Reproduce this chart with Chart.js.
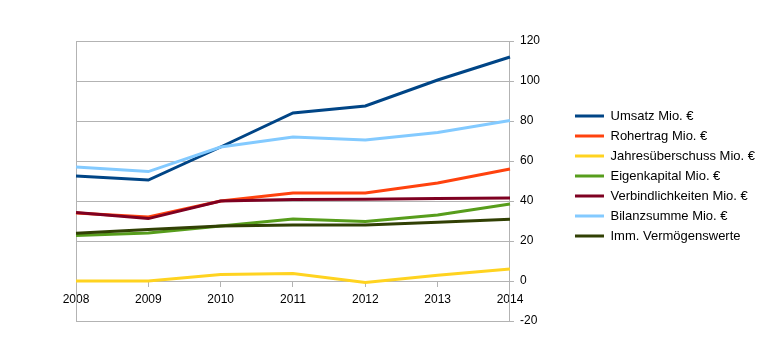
<!DOCTYPE html>
<html>
<head>
<meta charset="utf-8">
<script src="https://cdn.jsdelivr.net/npm/chart.js@4"></script>
<style>
  html, body { margin: 0; padding: 0; background: #fff; }
  #wrap { width: 765px; height: 352px; }
</style>
</head>
<body>
<div id="wrap"><canvas id="chart"></canvas></div>
<script>
const years = ["2008", "2009", "2010", "2011", "2012", "2013", "2014"];
const yTicks = [-20, 0, 20, 40, 60, 80, 100, 120];

const umsatz = [52.5, 50.5, 67, 84, 87.5, 100.5, 112];
const rohertrag = [34, 32, 40, 44, 44, 49, 56];
const jahresueberschuss = [0, 0, 3.3, 3.8, -0.7, 2.9, 6];
const eigenkapital = [22.7, 24, 27.5, 31, 29.7, 33, 38.5];
const verbindlichkeiten = [34.2, 31.2, 40, 40.8, 40.9, 41.3, 41.5];
const bilanzsumme = [57, 54.7, 67, 72, 70.5, 74.2, 80.2];
const immVermoegen = [23.9, 25.8, 27.5, 28, 28, 29.4, 30.9];

const seriesNames = ["Umsatz Mio. €", "Rohertrag Mio. €", "Jahresüberschuss Mio. €", "Eigenkapital Mio. €",
  "Verbindlichkeiten Mio. €", "Bilanzsumme Mio. €", "Imm. Vermögenswerte"];
const seriesColors = ["#004586", "#ff420e", "#ffd320", "#579d1c", "#7e0021", "#83caff", "#314004"];
const seriesData = [umsatz, rohertrag, jahresueberschuss, eigenkapital, verbindlichkeiten, bilanzsumme, immVermoegen];

const gridColor = "#b3b3b3";
const font = { family: "'Liberation Sans', Arial, sans-serif", size: 12 };

// later series drawn on top, like the original
const datasets = seriesData.map((d, i) => ({
  label: seriesNames[i],
  data: d,
  borderColor: seriesColors[i],
  backgroundColor: seriesColors[i],
  borderWidth: 3,
  pointRadius: 0,
  tension: 0,
  fill: false,
  order: seriesData.length - i
}));

// legend sits a bit above the vertical centre in the original
const legendNudge = {
  id: "legendNudge",
  afterLayout(chart) {
    chart.legend.top -= 5;
    chart.legend.bottom -= 5;
  }
};

new Chart(document.getElementById("chart"), {
  type: "line",
  data: { labels: years, datasets: datasets },
  plugins: [legendNudge],
  options: {
    responsive: true,
    maintainAspectRatio: false,
    animation: false,
    layout: { padding: { left: 76, top: 41, bottom: 31, right: 0 } },
    plugins: {
      tooltip: { enabled: false },
      legend: {
        position: "right",
        maxWidth: 260,
        labels: {
          sort: (a, b) => a.datasetIndex - b.datasetIndex,
          boxWidth: 29,
          boxHeight: 0, // stroke only -> 3px line like the original
          padding: 7,
          color: "#000",
          font: { family: font.family, size: 13 }
        }
      }
    },
    scales: {
      x: {
        position: { y: 0 },
        offset: false,
        grid: { drawOnChartArea: false, drawTicks: true, tickLength: 5, color: gridColor },
        border: { color: gridColor },
        ticks: { color: "#000", font: font, padding: 6, maxRotation: 0, autoSkip: false }
      },
      y: {
        position: "right",
        min: -20,
        max: 120,
        afterBuildTicks: scale => { scale.ticks = yTicks.map(v => ({ value: v })); },
        afterFit: scale => { scale.width = 58; },
        grid: { color: gridColor, tickLength: 4 },
        border: { color: gridColor },
        ticks: { color: "#000", font: font, padding: 6 }
      },
      yl: {
        position: "left",
        min: -20,
        max: 120,
        grid: { drawOnChartArea: false, drawTicks: false },
        border: { color: gridColor },
        ticks: { display: false }
      }
    }
  }
});
</script>
</body>
</html>
